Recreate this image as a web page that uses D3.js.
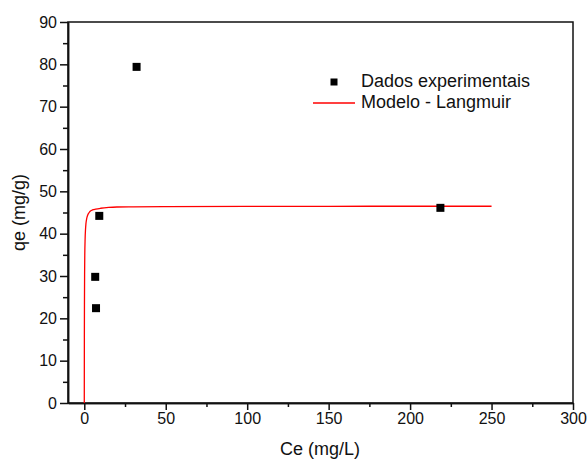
<!DOCTYPE html>
<html>
<head>
<meta charset="utf-8">
<script src="https://cdn.jsdelivr.net/npm/d3@7"></script>
<style>
  body { margin: 0; background: #fff; }
  text { font-family: "Liberation Sans", Arial, sans-serif; fill: #111; }
</style>
</head>
<body>
<div id="chart"></div>
<script>
// dados experimentais
const ceExp = [32.1, 6.7, 7.2, 9.2, 218.6];
const qeExp = [79.4, 29.8, 22.4, 44.2, 46.1];

// curva do modelo
const ceModel = [0, 0.05, 0.1, 0.2, 0.3, 0.5, 0.75, 1, 1.5, 2, 3, 4, 5, 7, 10, 15, 20, 30, 50, 100, 150, 200, 250];
const qeModel = [0, 15.5, 23.2, 31, 34.9, 38.7, 41.0, 42.3, 43.6, 44.3, 45.0, 45.4, 45.6, 45.8, 46.0, 46.2, 46.3, 46.35, 46.4, 46.45, 46.47, 46.48, 46.48];

const xTicks = [0, 50, 100, 150, 200, 250, 300];
const yTicks = [0, 10, 20, 30, 40, 50, 60, 70, 80, 90];

const W = 587, H = 459;
const margin = { top: 22, right: 14, bottom: 56, left: 68 };

const svg = d3.select("#chart").append("svg")
    .attr("width", W)
    .attr("height", H);

const x = d3.scaleLinear().domain([-10, 300]).range([margin.left, W - margin.right]);
const y = d3.scaleLinear().domain([0, 90]).range([H - margin.bottom, margin.top]);

// caixa
svg.append("rect")
    .attr("x", margin.left)
    .attr("y", margin.top)
    .attr("width", W - margin.left - margin.right)
    .attr("height", H - margin.top - margin.bottom)
    .attr("fill", "none")
    .attr("stroke", "#111")
    .attr("stroke-width", 1.5);

// eixo X
svg.append("g")
    .attr("transform", `translate(0, ${H - margin.bottom})`)
    .call(d3.axisBottom(x).tickValues(xTicks).tickSize(7).tickPadding(3).tickSizeOuter(0));
svg.append("g")
    .attr("transform", `translate(0, ${H - margin.bottom})`)
    .call(d3.axisBottom(x).tickValues(d3.range(25, 300, 50)).tickSize(4).tickFormat("").tickSizeOuter(0));

// eixo Y
svg.append("g")
    .attr("transform", `translate(${margin.left}, 0)`)
    .call(d3.axisLeft(y).tickValues(yTicks).tickSize(8).tickPadding(3).tickSizeOuter(0));
svg.append("g")
    .attr("transform", `translate(${margin.left}, 0)`)
    .call(d3.axisLeft(y).tickValues(d3.range(5, 90, 10)).tickSize(5).tickFormat("").tickSizeOuter(0));

svg.selectAll(".domain").attr("stroke", "#111").attr("stroke-width", 1.5);
svg.selectAll(".tick line").attr("stroke", "#111").attr("stroke-width", 1.5);
svg.selectAll(".tick text").style("font-size", "16px").attr("fill", "#111");

// curva Langmuir
const line = d3.line()
    .x((d, i) => x(ceModel[i]))
    .y((d, i) => y(qeModel[i]))
    .curve(d3.curveMonotoneX);

svg.append("path")
    .datum(qeModel)
    .attr("d", line)
    .attr("fill", "none")
    .attr("stroke", "#ff0000")
    .attr("stroke-width", 1.3);

// pontos
const sq = 8;
svg.selectAll("rect.pt")
    .data(ceExp)
    .enter()
    .append("rect")
    .attr("class", "pt")
    .attr("x", (d, i) => x(d) - sq / 2)
    .attr("y", (d, i) => y(qeExp[i]) - sq / 2)
    .attr("width", sq)
    .attr("height", sq)
    .attr("fill", "#000");

// títulos dos eixos
svg.append("text")
    .attr("x", 320)
    .attr("y", 455)
    .attr("text-anchor", "middle")
    .style("font-size", "18px")
    .text("Ce (mg/L)");

svg.append("text")
    .attr("transform", `translate(25, ${(margin.top + H - margin.bottom) / 2}) rotate(-90)`)
    .attr("text-anchor", "middle")
    .style("font-size", "18px")
    .text("qe (mg/g)");

// legenda
const legend = svg.append("g").attr("transform", "translate(313, 82)");
legend.append("rect")
    .attr("x", 17.5).attr("y", -3.5)
    .attr("width", 7).attr("height", 7)
    .attr("fill", "#000");
legend.append("text")
    .attr("x", 48).attr("y", 5)
    .style("font-size", "18px")
    .text("Dados experimentais");
legend.append("line")
    .attr("x1", 0).attr("x2", 42)
    .attr("y1", 21).attr("y2", 21)
    .attr("stroke", "#ff0000")
    .attr("stroke-width", 1.3);
legend.append("text")
    .attr("x", 48).attr("y", 26)
    .style("font-size", "18px")
    .text("Modelo - Langmuir");
</script>
</body>
</html>
